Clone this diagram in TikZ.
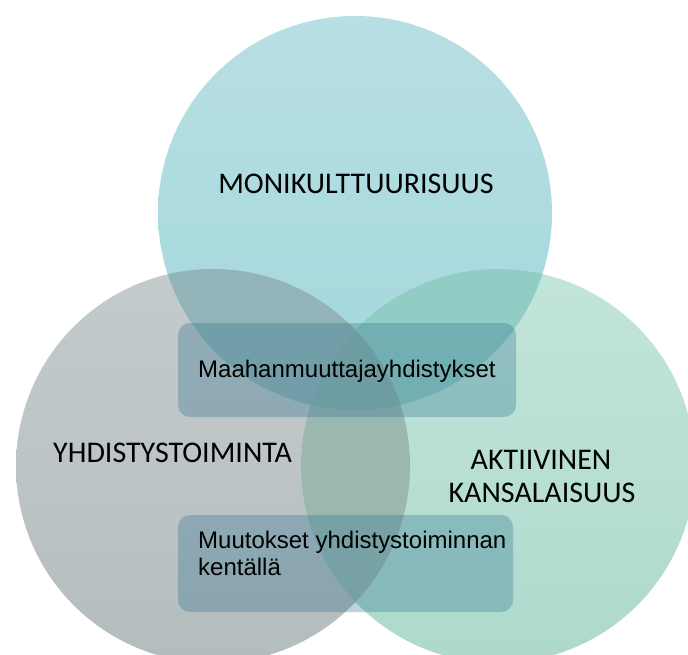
\documentclass[tikz,border=0pt]{standalone}
\usepackage{fontspec}
\setmainfont{Carlito}
\newfontfamily\arialf{Liberation Sans}
\definecolor{tTop}{HTML}{B8DFE3}
\definecolor{tBot}{HTML}{A2D7DC}
\definecolor{gTop}{HTML}{C4CBCC}
\definecolor{gBot}{HTML}{B4BDBE}
\definecolor{nTop}{HTML}{C3E5DB}
\definecolor{nBot}{HTML}{ADD9CC}
\definecolor{cTG}{HTML}{93B4B8}
\definecolor{cTN}{HTML}{92CDC5}
\definecolor{cGN}{HTML}{9BB8B0}
\definecolor{cTGN}{HTML}{8EB2AE}
\definecolor{boxc}{RGB}{38,108,140}
\tikzset{
  circlab/.style={font=\fontsize{30}{33}\selectfont, text=black, align=center, inner sep=0pt},
  boxtext/.style={font=\arialf\fontsize{24}{27}\selectfont, text=black, align=left, inner sep=0pt, anchor=base west},
  boxshape/.style={fill=boxc, fill opacity=0.3, rounded corners=12pt, draw=none}
}
\begin{document}
\begin{tikzpicture}[x=1pt,y=-1pt]
\useasboundingbox (0,0) rectangle (688,655);
\clip (0,0) rectangle (688,655);
% circle geometry
\def\rr{197}
\coordinate (cT) at (355,213);
\coordinate (cG) at (213,466);
\coordinate (cN) at (498,466);
% single circles
\shade[top color=gTop, bottom color=gBot] (cG) circle[radius=\rr];
\shade[top color=nTop, bottom color=nBot] (cN) circle[radius=\rr];
\shade[top color=tTop, bottom color=tBot] (cT) circle[radius=\rr];
% pairwise overlaps
\begin{scope}
  \clip (cT) circle[radius=\rr];
  \fill[cTG] (cG) circle[radius=\rr];
  \fill[cTN] (cN) circle[radius=\rr];
\end{scope}
\begin{scope}
  \clip (cG) circle[radius=\rr];
  \fill[cGN] (cN) circle[radius=\rr];
\end{scope}
\begin{scope}
  \clip (cT) circle[radius=\rr];
  \clip (cG) circle[radius=\rr];
  \fill[cTGN] (cN) circle[radius=\rr];
\end{scope}
% boxes
\path[boxshape] (178,323) rectangle (516,417);
\path[boxshape] (178,515) rectangle (513,612);
% labels
\node[circlab, anchor=base] (lT) at (356,194) {MONIKULTTUURISUUS};
\node[circlab, anchor=base west] (lG) at (53,462) {YHDISTYSTOIMINTA};
\node[circlab, anchor=base] (lN1) at (541,469) {AKTIIVINEN};
\node[circlab, anchor=base] (lN2) at (542,502) {KANSALAISUUS};
\node[boxtext] (t1) at (198,377) {Maahanmuuttajayhdistykset};
\node[boxtext] (t2) at (198,548) {Muutokset yhdistystoiminnan};
\node[boxtext] (t3) at (198,575) {kentällä};
\end{tikzpicture}
\end{document}
